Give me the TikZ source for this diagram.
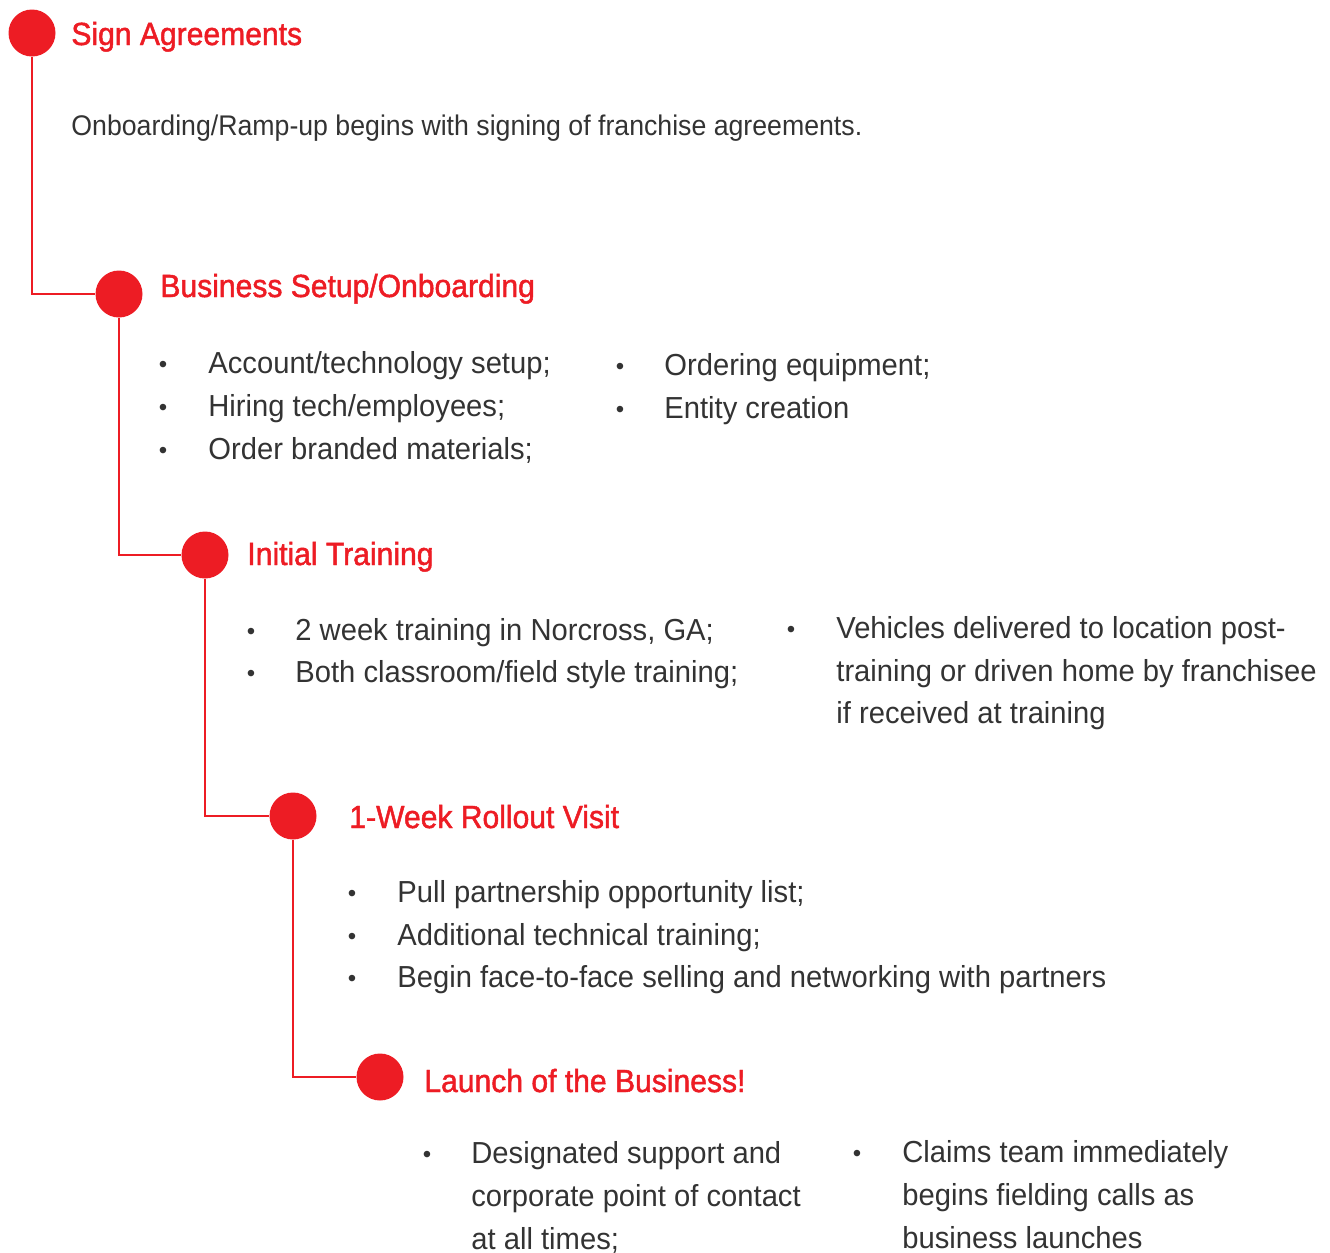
\documentclass[tikz,border=0pt]{standalone}
\usepackage{fontspec}
\setmainfont{Liberation Sans}
\newfontfamily\headfont[FakeStretch=0.94,FakeBold=1.5]{Liberation Sans}
\newfontfamily\bodyfont[FakeStretch=0.96]{Liberation Sans}
\newfontfamily\introfont[FakeStretch=0.94]{Liberation Sans}
\definecolor{tlred}{HTML}{ED1C24}
\definecolor{tltext}{HTML}{333333}
\begin{document}
\begin{tikzpicture}[x=0.5pt,y=-0.5pt,
  dot/.style={circle,fill=tlred,minimum size=23.5pt,inner sep=0pt},
  head/.style={anchor=base west,inner sep=0pt,text=tlred,font=\headfont\fontsize{16}{19}\selectfont},
  intro/.style={anchor=base west,inner sep=0pt,text=tltext,font=\introfont\fontsize{14.2}{17}\selectfont},
  body/.style={anchor=base west,inner sep=0pt,text=tltext,font=\bodyfont\fontsize{15.2}{18}\selectfont},
  bul/.style={anchor=base,inner sep=0pt,text=tltext,font=\fontsize{12}{14}\selectfont},
  link/.style={draw=tlred,line width=1pt}]
\useasboundingbox (0,0) rectangle (1330,1253);
\node[dot] (sign) at (32,33) {};
\node[dot] (biz) at (119,294) {};
\node[dot] (train) at (205,555) {};
\node[dot] (visit) at (293,816) {};
\node[dot] (launch) at (380,1077) {};
\draw[link] (sign) |- (biz);
\draw[link] (biz) |- (train);
\draw[link] (train) |- (visit);
\draw[link] (visit) |- (launch);
\node[head] (signh) at (71,45) {Sign Agreements};
\node[intro] (signt) at (71,135) {Onboarding/Ramp-up begins with signing of franchise agreements.};
\node[head] (bizh) at (160,297) {Business Setup/Onboarding};
\node[bul] (bizb1) at (163,372) {•};
\node[bul] (bizb2) at (163,415) {•};
\node[bul] (bizb3) at (163,458) {•};
\node[body] (bizt1) at (208,373) {Account/technology setup;};
\node[body] (bizt2) at (208,416) {Hiring tech/employees;};
\node[body] (bizt3) at (208,459) {Order branded materials;};
\node[bul] (bizb4) at (620,374) {•};
\node[bul] (bizb5) at (620,417) {•};
\node[body] (bizt4) at (664,375) {Ordering equipment;};
\node[body] (bizt5) at (664,418) {Entity creation};
\node[head] (trainh) at (247,565) {Initial Training};
\node[bul] (trainb1) at (251,639) {•};
\node[bul] (trainb2) at (251,681) {•};
\node[body] (traint1) at (295,640) {2 week training in Norcross, GA;};
\node[body] (traint2) at (295,682) {Both classroom/field style training;};
\node[bul] (trainb3) at (791,637) {•};
\node[body] (traint3) at (836,638) {Vehicles delivered to location post-};
\node[body] (traint4) at (836,681) {training or driven home by franchisee};
\node[body] (traint5) at (836,723) {if received at training};
\node[head] (visith) at (349,828) {1-Week Rollout Visit};
\node[bul] (visitb1) at (352,901) {•};
\node[bul] (visitb2) at (352,944) {•};
\node[bul] (visitb3) at (352,986) {•};
\node[body] (visitt1) at (397,902) {Pull partnership opportunity list;};
\node[body] (visitt2) at (397,945) {Additional technical training;};
\node[body] (visitt3) at (397,987) {Begin face-to-face selling and networking with partners};
\node[head] (launchh) at (424,1092) {Launch of the Business!};
\node[bul] (launchb1) at (427,1162) {•};
\node[body] (launcht1) at (471,1163) {Designated support and};
\node[body] (launcht2) at (471,1206) {corporate point of contact};
\node[body] (launcht3) at (471,1249) {at all times;};
\node[bul] (launchb2) at (857,1161) {•};
\node[body] (launcht4) at (902,1162) {Claims team immediately};
\node[body] (launcht5) at (902,1205) {begins fielding calls as};
\node[body] (launcht6) at (902,1248) {business launches};
\end{tikzpicture}
\end{document}
